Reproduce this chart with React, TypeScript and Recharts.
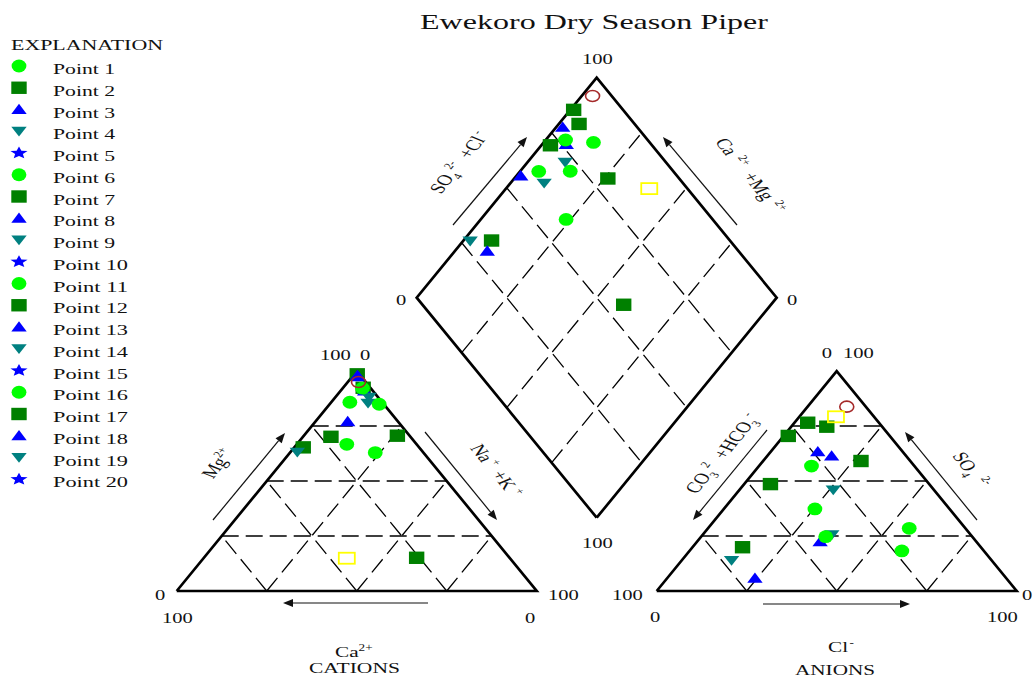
import React from 'react';
import { ScatterChart, Scatter, XAxis, YAxis } from 'recharts';

// ---------- data (percent of meq) ----------
const sampleIds = ['S1','S2','S3','S4','S5','S6','S7','S8','S9','S10','S11','S12','S13','S14','S15','S16','S17','S18','S19','S20'];
const markerKinds = ['square','square','square','square','square','square','triangle','triangle','triangle','triangle','down','down','down','circle','circle','circle','circle','circle','ocircle','osquare'];
const caPct  = [0.6, 2.0, 32.2, 3.4, 22.1, 25.8, 0.8, 2.3, 0.8, 14.0, 4.2, 2.6, 35.0, 2.3, 1.3, 9.0, 19.4, 13.4, 2.0, 45.3];
const mgPct  = [98.5, 92.4, 65.3, 70.6, 70.1, 15.1, 97.4, 91.0, 98.0, 77.0, 85.3, 88.0, 63.0, 92.2, 84.9, 85.8, 66.7, 62.9, 95.0, 14.9];
const nakPct = [0.9, 5.6, 2.5, 26.0, 7.8, 59.1, 1.8, 6.7, 1.2, 9.0, 10.5, 9.4, 2.0, 5.5, 13.8, 5.2, 13.9, 23.7, 3.0, 39.8];
const hco3Pct = [13.7, 15.4, 28.2, 19.8, 66.2, 44.1, 20.7, 23.6, 43.4, 69.8, 28.0, 38.6, 72.3, 22.8, 15.6, 37.4, 28.6, 40.7, 5.3, 10.6];
const so4Pct  = [59.1, 74.7, 70.5, 76.5, 19.9, 48.6, 61.4, 63.3, 22.4, 5.8, 45.9, 25.5, 13.8, 18.2, 28.5, 37.3, 56.8, 24.7, 83.8, 79.2];
const clPct   = [27.2, 9.9, 1.3, 3.7, 13.9, 7.3, 17.9, 13.1, 34.2, 24.4, 26.1, 35.9, 13.9, 59.0, 55.9, 25.3, 14.6, 34.6, 10.9, 10.2];

const legendLabels = ['Point 1','Point 2','Point 3','Point 4','Point 5','Point 6','Point 7','Point 8','Point 9','Point 10','Point 11','Point 12','Point 13','Point 14','Point 15','Point 16','Point 17','Point 18','Point 19','Point 20'];
const legendKinds = ['circle','square','triangle','down','star','circle','square','triangle','down','star','circle','square','triangle','down','star','circle','square','triangle','down','star'];
const gridLevels = [25, 50, 75];

// ---------- Piper geometry (chart units) ----------
const G = 33.33;
const H = 86.6025;
const X_MIN = -49.083, X_MAX = 238.139;
const Y_MIN = -34.252, Y_MAX = 232.677;
const SX = 1.417;
const FONT = '"Liberation Serif", "Times New Roman", Times, serif';

const cat = (ca: number, mg: number, nak: number) => {
  const t = ca + mg + nak;
  const m = (mg / t) * 100, n = (nak / t) * 100;
  return { x: n + m / 2, y: (m * H) / 100 };
};
const ani = (hco3: number, so4: number, cl: number) => {
  const t = hco3 + so4 + cl;
  const s = (so4 / t) * 100, c = (cl / t) * 100;
  return { x: 100 + G + c + s / 2, y: (s * H) / 100 };
};
const dia = (nak: number, s: number) => ({ x: (nak + 100 + G + s) / 2, y: (H / 100) * (100 + G + s - nak) });

const catPts = sampleIds.map((id, i) => ({ id, kind: markerKinds[i], ...cat(caPct[i], mgPct[i], nakPct[i]) }));
const aniPts = sampleIds.map((id, i) => ({ id, kind: markerKinds[i], ...ani(hco3Pct[i], so4Pct[i], clPct[i]) }));
const diaPts = sampleIds.map((id, i) => {
  const tc = caPct[i] + mgPct[i] + nakPct[i];
  const ta = hco3Pct[i] + so4Pct[i] + clPct[i];
  return { id, kind: markerKinds[i], ...dia((nakPct[i] / tc) * 100, ((so4Pct[i] + clPct[i]) / ta) * 100) };
});

const outlines = [
  [cat(100, 0, 0), cat(0, 0, 100), cat(0, 100, 0), cat(100, 0, 0)],
  [ani(100, 0, 0), ani(0, 0, 100), ani(0, 100, 0), ani(100, 0, 0)],
  [dia(100, 0), dia(100, 100), dia(0, 100), dia(0, 0), dia(100, 0)],
];

const gridSegs: { x: number; y: number }[][] = [];
gridLevels.forEach((p) => {
  gridSegs.push([cat(100 - p, p, 0), cat(0, p, 100 - p)]);
  gridSegs.push([cat(100 - p, 0, p), cat(0, 100 - p, p)]);
  gridSegs.push([cat(p, 0, 100 - p), cat(p, 100 - p, 0)]);
  gridSegs.push([ani(100 - p, p, 0), ani(0, p, 100 - p)]);
  gridSegs.push([ani(100 - p, 0, p), ani(0, 100 - p, p)]);
  gridSegs.push([ani(p, 0, 100 - p), ani(p, 100 - p, 0)]);
  gridSegs.push([dia(p, 0), dia(p, 100)]);
  gridSegs.push([dia(0, p), dia(100, p)]);
});

// ---------- markers ----------
const starPoints = (cx: number, cy: number, rx: number, ry: number) => {
  const pts: string[] = [];
  for (let k = 0; k < 10; k++) {
    const r = k % 2 === 0 ? 1 : 0.45;
    const a = -Math.PI / 2 + (k * Math.PI) / 5;
    pts.push(`${cx + rx * r * Math.cos(a)},${cy + ry * r * Math.sin(a)}`);
  }
  return pts.join(' ');
};

const Marker = ({ cx, cy, kind }: { cx: number; cy: number; kind: string }) => {
  switch (kind) {
    case 'circle':
      return <ellipse cx={cx} cy={cy} rx={7.4} ry={6.4} fill="#00FF00" />;
    case 'square':
      return <rect x={cx - 7.7} y={cy - 6.2} width={15.4} height={12.4} fill="#008000" />;
    case 'triangle':
      return <polygon points={`${cx},${cy - 5.8} ${cx + 7.7},${cy + 4.6} ${cx - 7.7},${cy + 4.6}`} fill="#0000FF" />;
    case 'down':
      return <polygon points={`${cx - 7.7},${cy - 4.6} ${cx + 7.7},${cy - 4.6} ${cx},${cy + 5.2}`} fill="#008080" />;
    case 'star':
      return <polygon points={starPoints(cx, cy, 9, 6.5)} fill="#0000FF" />;
    case 'ocircle':
      return <ellipse cx={cx} cy={cy} rx={7} ry={5.5} fill="none" stroke="#A52A2A" strokeWidth={1.6} />;
    case 'osquare':
      return <rect x={cx - 8} y={cy - 5.5} width={16} height={11} fill="none" stroke="#FFFF00" strokeWidth={1.8} />;
    default:
      return <g />;
  }
};

const MarkerShape = (props: any) => {
  const kind = props.payload?.kind ?? props.kind;
  return <Marker cx={props.cx} cy={props.cy} kind={kind} />;
};
const Empty = () => <g />;

// ---------- overlay text helpers ----------
type Part = { t: string; sup?: boolean; sub?: boolean; dx?: number };
const Rich = ({ parts, size }: { parts: Part[]; size: number }) => {
  let cur = 0;
  return (
    <>
      {parts.map((p, i) => {
        const target = p.sup ? -size * 0.42 : p.sub ? size * 0.28 : 0;
        const dy = target - cur;
        cur = target;
        return (
          <tspan key={i} dy={dy} dx={p.dx ?? 0} fontSize={p.sup || p.sub ? size * 0.62 : size}>
            {p.t}
          </tspan>
        );
      })}
    </>
  );
};

const Txt = ({ x, y, rot = 0, size = 14.5, anchor = 'start', len, parts, children, mid }: any) => (
  <text
    transform={`translate(${x},${y}) scale(${SX},1) rotate(${rot})`}
    fontSize={size}
    fontFamily={FONT}
    textAnchor={anchor}
    dy={mid ? '0.35em' : undefined}
    fill="#111"
    textLength={len}
    lengthAdjust={len ? 'spacingAndGlyphs' : undefined}
  >
    {parts ? <Rich parts={parts} size={size} /> : children}
  </text>
);

const Arrow = ({ x1, y1, x2, y2 }: { x1: number; y1: number; x2: number; y2: number }) => {
  const a = Math.atan2(y2 - y1, x2 - x1);
  const L = 10, W = 4;
  const bx = x2 - L * Math.cos(a), by = y2 - L * Math.sin(a);
  const p1 = `${bx + W * Math.sin(a)},${by - W * Math.cos(a)}`;
  const p2 = `${bx - W * Math.sin(a)},${by + W * Math.cos(a)}`;
  return (
    <g>
      <line x1={x1} y1={y1} x2={bx} y2={by} stroke="#111" strokeWidth={1.2} />
      <polygon points={`${x2},${y2} ${p1} ${p2}`} fill="#111" />
    </g>
  );
};

export default function App() {
  return (
    <div style={{ position: 'absolute', left: 0, top: 0, width: 1034, height: 678, background: '#fff' }}>
      <ScatterChart width={1034} height={678} margin={{ top: 0, right: 0, bottom: 0, left: 0 }}>
        <XAxis type="number" dataKey="x" domain={[X_MIN, X_MAX]} hide allowDataOverflow />
        <YAxis type="number" dataKey="y" domain={[Y_MIN, Y_MAX]} hide allowDataOverflow />
        {gridSegs.map((seg, i) => (
          <Scatter
            key={`g${i}`}
            data={seg}
            line={{ stroke: '#000', strokeWidth: 1.3, strokeDasharray: '17 7' }}
            shape={Empty}
            isAnimationActive={false}
            legendType="none"
          />
        ))}
        {outlines.map((seg, i) => (
          <Scatter
            key={`o${i}`}
            data={seg}
            line={{ stroke: '#000', strokeWidth: 2.7, strokeLinejoin: 'miter' }}
            shape={Empty}
            isAnimationActive={false}
            legendType="none"
          />
        ))}
        <Scatter data={diaPts} shape={MarkerShape} isAnimationActive={false} legendType="none" />
        <Scatter data={catPts} shape={MarkerShape} isAnimationActive={false} legendType="none" />
        <Scatter data={aniPts} shape={MarkerShape} isAnimationActive={false} legendType="none" />
      </ScatterChart>

      <svg width={1034} height={678} style={{ position: 'absolute', left: 0, top: 0, pointerEvents: 'none' }}>
        {/* title */}
        <Txt x={420} y={29} size={21} len={245.6}>Ewekoro Dry Season Piper</Txt>

        {/* legend */}
        <Txt x={11} y={49.5} size={15} len={107.3}>EXPLANATION</Txt>
        {legendLabels.map((lab, i) => (
          <g key={lab}>
            <Marker cx={19} cy={66 + i * 21.75} kind={legendKinds[i]} />
            <Txt x={53} y={74 + i * 21.75} size={15.5} len={i < 9 ? 43.8 : 52.9}>{lab}</Txt>
          </g>
        ))}

        {/* cation triangle labels */}
        <Txt x={320} y={360}>100</Txt>
        <Txt x={360} y={360}>0</Txt>
        <Txt x={155} y={600}>0</Txt>
        <Txt x={162} y={623}>100</Txt>
        <Txt x={548} y={600}>100</Txt>
        <Txt x={525} y={623}>0</Txt>
        <Txt x={335} y={657} size={15} parts={[{ t: 'Ca' }, { t: '2+', sup: true }]} />
        <Txt x={309} y={673} size={14.5} len={64.2}>CATIONS</Txt>
        <Txt x={224} y={466} rot={-60} size={15} anchor="middle" mid parts={[{ t: 'Mg' }, { t: '2+', sup: true }]} />
        <Txt x={490} y={473} rot={60} size={15} anchor="middle" mid parts={[{ t: 'Na' }, { t: '+', sup: true, dx: 2 }, { t: ' +K', dx: 2 }, { t: '+', sup: true, dx: 3 }]} />
        <Arrow x1={213} y1={520} x2={285} y2={433} />
        <Arrow x1={425} y1={432} x2={497} y2={520} />
        <Arrow x1={428} y1={603} x2={283} y2={603} />

        {/* anion triangle labels */}
        <Txt x={821.7} y={358}>0</Txt>
        <Txt x={843} y={358}>100</Txt>
        <Txt x={612} y={600}>100</Txt>
        <Txt x={650} y={622}>0</Txt>
        <Txt x={1022} y={600}>0</Txt>
        <Txt x={987} y={622}>100</Txt>
        <Txt x={828} y={652} size={15} parts={[{ t: 'Cl' }, { t: '-', sup: true, dx: 1 }]} />
        <Txt x={795} y={675} size={14.5} len={56.5}>ANIONS</Txt>
        <Txt x={728} y={456} rot={-60} size={15} anchor="middle" mid parts={[{ t: 'CO' }, { t: '3', sub: true }, { t: '2', sup: true, dx: 1 }, { t: ' +HCO', dx: 5 }, { t: '3', sub: true }, { t: '-', sup: true, dx: 1 }]} />
        <Txt x={965} y={472} rot={60} size={15} anchor="middle" mid parts={[{ t: 'SO' }, { t: '4', sub: true }, { t: '2-', sup: true, dx: 6 }]} />
        <Arrow x1={767} y1={430} x2={693} y2={520} />
        <Arrow x1={977} y1={520} x2={905} y2={432} />
        <Arrow x1={763} y1={604} x2={910} y2={604} />

        {/* diamond labels */}
        <Txt x={582} y={64}>100</Txt>
        <Txt x={396} y={305}>0</Txt>
        <Txt x={787} y={305}>0</Txt>
        <Txt x={582} y={548}>100</Txt>
        <Txt x={465} y={165} rot={-60} size={15} anchor="middle" mid parts={[{ t: 'SO' }, { t: '4', sub: true }, { t: '2-', sup: true, dx: 1 }, { t: ' +Cl', dx: 4 }, { t: '-', sup: true, dx: 2 }]} />
        <Txt x={744} y={178} rot={60} size={15} anchor="middle" mid parts={[{ t: 'Ca' }, { t: '2+', sup: true, dx: 5 }, { t: ' +Mg', dx: 4 }, { t: '2+', sup: true, dx: 5 }]} />
        <Arrow x1={453} y1={225} x2={527} y2={137} />
        <Arrow x1={737} y1={225} x2={663} y2={137} />
      </svg>
    </div>
  );
}
